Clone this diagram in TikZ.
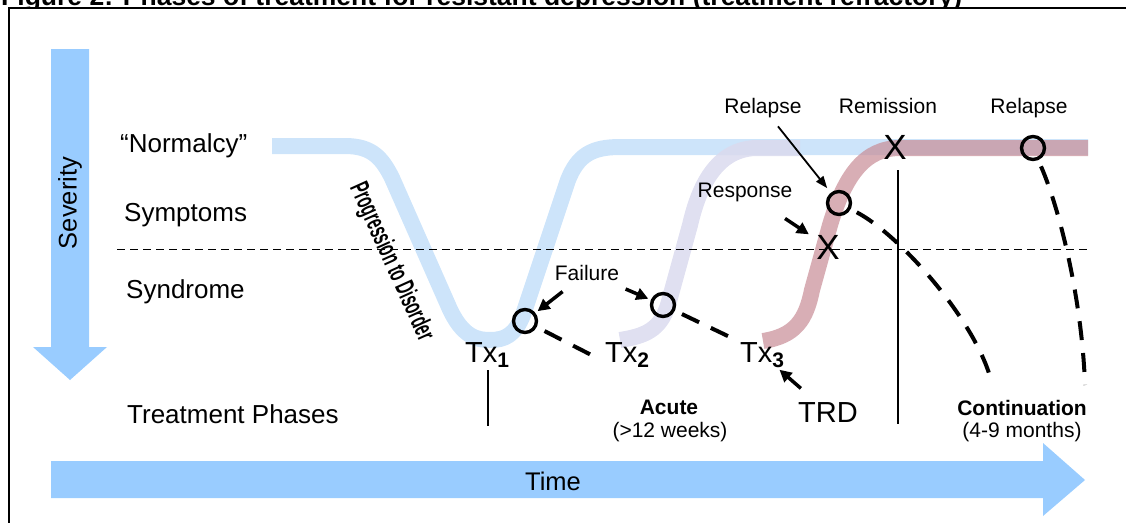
\documentclass[tikz,border=0pt]{standalone}
\usepackage{fontspec}
\setmainfont{Liberation Sans}
\usetikzlibrary{arrows.meta,calc}
\definecolor{arrowblue}{RGB}{153,204,255}
\definecolor{bandblue}{RGB}{205,228,250}
\definecolor{bandlav}{RGB}{218,218,238}
\definecolor{bandrose}{RGB}{200,140,150}

\begin{document}
\begin{tikzpicture}[x=1pt,y=-1pt,
  lbl/.style={font=\fontsize{26}{30}\selectfont, inner sep=0pt, anchor=base west},
  small/.style={font=\fontsize{21}{25}\selectfont, inner sep=0pt, anchor=base},
  smallbold/.style={small, font=\fontsize{21}{25}\selectfont\bfseries},
  txl/.style={font=\fontsize{29}{32}\selectfont, inner sep=0pt, anchor=base west},
  band/.style={line width=16pt, line cap=butt, line join=round},
  ringmark/.style={circle, draw, line width=3.4pt, minimum size=23pt, inner sep=0pt},
  cross/.style={font=\fontsize{35}{35}\selectfont, inner sep=0pt},
  bigdash/.style={line width=4pt, dash pattern=on 19pt off 13pt},
  fatarrow/.style={line width=3.5pt, -{Triangle[length=12pt,width=12pt]}},
  thinarrow/.style={line width=1.8pt, -{Triangle[length=12pt,width=9pt]}},
]
\useasboundingbox (0,0) rectangle (1126,523);

% caption, only its lower edge lies on the page
\begin{scope}
  \clip (0,-40) rectangle (1126,6.5);
  \node[anchor=base west, inner sep=0pt, font=\fontsize{26.5}{30}\selectfont\bfseries] (title) at (1,5.5)
    {Figure 2: Phases of treatment for resistant depression (treatment refractory)};
\end{scope}

% frame
\draw[line width=2pt] (1126,7.5) -- (8.5,7.5) -- (8.5,523);

% severity axis
\fill[arrowblue] (51,49) -- (89,49) -- (89,347) -- (107,347) -- (70,380) -- (33,347) -- (51,347) -- cycle;
\node[rotate=90, font=\fontsize{25.5}{30}\selectfont, inner sep=0pt] (severity) at (70,203) {Severity};

% time axis
\fill[arrowblue] (51,461) -- (1043,461) -- (1043,443) -- (1085,480) -- (1043,516) -- (1043,498) -- (51,498) -- cycle;
\node[font=\fontsize{25.5}{30}\selectfont, inner sep=0pt] (time) at (553,481) {Time};

% course of illness under each treatment
\draw[band, bandblue] (272,146) -- (345,146) .. controls (372,146) and (382,158) .. (392,178)
  -- (448,305) .. controls (462,338) and (478,340) .. (490,340)
  .. controls (505,340) and (515,335) .. (523,315)
  -- (568,180) .. controls (578,155) and (592,147) .. (620,147) -- (1088,147);
\draw[band, bandlav, opacity=0.85] (620,340) .. controls (645,336) and (660,330) .. (668,305)
  -- (690,225) .. controls (697,195) and (712,150) .. (755,148) -- (800,148);
\draw[band, bandrose, opacity=0.7] (763,341) .. controls (795,336) and (806,320) .. (812,290)
  -- (830,225) .. controls (845,175) and (865,148) .. (900,148) -- (1088,148);

% syndrome threshold
\draw[line width=1pt, dash pattern=on 8pt off 5pt] (117,249) -- (1090,249);

% level labels
\node[lbl] (normalcy) at (120,152) {“Normalcy”};
\node[lbl] (symptoms) at (124,221) {Symptoms};
\node[lbl] (syndrome) at (126,298) {Syndrome};
\node[lbl] (phases) at (127,423) {Treatment Phases};

\node[rotate=-65.7, inner sep=0pt, font=\fontsize{27}{27}\selectfont\bfseries] (prog) at (391,262)
  {\scalebox{0.55}[1]{Progression to Disorder}};

% treatments
\node[txl] (tx1) at (465,362) {Tx\raisebox{-5pt}{\fontsize{21}{21}\selectfont\bfseries 1}};
\node[txl] (tx2) at (605,362) {Tx\raisebox{-5pt}{\fontsize{21}{21}\selectfont\bfseries 2}};
\node[txl] (tx3) at (740,362) {Tx\raisebox{-5pt}{\fontsize{21}{21}\selectfont\bfseries 3}};
\node[txl] (trd) at (798,422) {TRD};

% phase dividers
\draw[line width=1.1pt] (488,370) -- (488,426);
\draw[line width=1.1pt] (898,170) -- (898,424);

\node[smallbold] (acute) at (669,414) {Acute};
\node[small] (acuteweeks) at (670,437) {(>12 weeks)};
\node[smallbold] (cont) at (1022,415) {Continuation};
\node[small] (contmonths) at (1022,437) {(4-9 months)};

% outcome labels
\node[small] (failure) at (587,280) {Failure};
\node[small] (relapseA) at (763,113) {Relapse};
\node[small] (remission) at (888,113) {Remission};
\node[small] (relapseB) at (1029,113) {Relapse};
\node[small] (response) at (745,197) {Response};

% outcome markers
\node[ringmark] (c1) at (525,321) {};
\node[ringmark] (c2) at (663,305) {};
\node[ringmark] (c3) at (839,203) {};
\node[ringmark] (c4) at (1033,148) {};
\node[cross] (xresp) at (828,247) {X};
\node[cross] (xrem) at (895,147) {X};

% course after each outcome
\draw[bigdash, shorten <=22pt, shorten >=13pt] (c1.center) -- (tx2.base west);
\draw[bigdash, shorten <=21pt, shorten >=11pt] (c2.center) -- (tx3.north west);
\coordinate (e3) at (991,380);
\coordinate (e4) at (1085,385);
\draw[bigdash, shorten <=20pt] (c3.center) .. controls (900,235) and (975,320) .. (e3);
\draw[bigdash, shorten <=20pt] (c4.center) .. controls (1060,210) and (1082,300) .. (e4);

% pointers
\draw[fatarrow, shorten <=31pt, shorten >=16pt] (failure.center) -- (c1.center);
\draw[fatarrow, shorten <=42pt, shorten >=16pt] (failure.center) -- (c2.center);
\draw[thinarrow, shorten <=24pt, shorten >=19pt] (relapseA.center) -- (c3.center);
\draw[fatarrow, shorten <=48pt, shorten >=23pt] (response.center) -- (xresp.center);
\draw[fatarrow, shorten <=36pt, shorten >=23pt] (trd.center) -- (tx3.center);
\end{tikzpicture}
\end{document}
